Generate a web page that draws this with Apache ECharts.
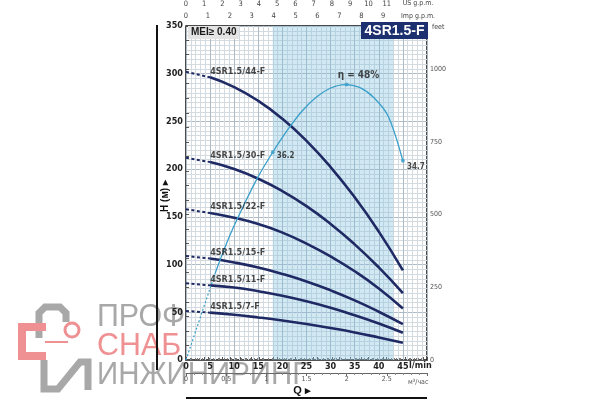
<!DOCTYPE html>
<html><head><meta charset="utf-8">
<script src="https://cdn.jsdelivr.net/npm/echarts@6/dist/echarts.min.js"></script>
<style>html,body{margin:0;padding:0;background:#fff}#c{width:600px;height:400px}</style>
</head><body><div id="c"></div>
<script>
// ---- data ----
const flowLmin = [0, 5, 10, 15, 20, 25, 30, 35, 40, 45];
const curveNames = ['4SR1.5/44-F', '4SR1.5/30-F', '4SR1.5/22-F', '4SR1.5/15-F', '4SR1.5/11-F', '4SR1.5/7-F'];
const head44 = [302, 296.2, 286, 271.5, 252.8, 229.6, 202.2, 170.5, 134.5, 94];
const head30 = [212, 207.4, 200.1, 189.9, 176.9, 161.2, 142.6, 121.2, 97, 70];
const head22 = [158, 154, 149, 142.5, 133.5, 122, 108.5, 93, 75, 54];
const head15 = [109, 106.3, 102.2, 96.9, 90.2, 82.3, 73, 62.5, 50.6, 37.5];
const head11 = [80.5, 78.2, 75.9, 72.1, 67.3, 61.5, 54.7, 46.9, 38.2, 28.5];
const head7 = [51.4, 49.6, 47.4, 44.6, 41.4, 37.7, 33.5, 28.9, 23.6, 18];
const effFlow = [0, 6, 9, 12, 15, 18, 21, 24, 27, 30, 33, 36, 39, 42, 45];
const effValue = [0, 15, 21.5, 27, 32, 36.2, 40, 43.3, 45.8, 47.4, 48, 47.5, 45.7, 42.4, 34.7];
const effMarkFlow = [18, 33.3, 45];
const effMarkValue = [36.2, 48, 34.7];
const effMarkText = ['36.2', 'η = 48%', '34.7'];
const bestRange = [18, 43];
const pumpDashedEnd = 5;  // pump curves dashed from Q=0 to Q=5
const effDashedEnd = 6;   // efficiency curve dashed from Q=0 to Q=6

// unit conversions
const L_PER_USGAL = 3.785, L_PER_IMPGAL = 4.546, LMIN_PER_M3H = 16.667, FT_PER_M = 3.28084;
const qMax = 50, hMax = 350, effMax = 58.2;

const heads = [head44, head30, head22, head15, head11, head7];
const NAVY = '#1f2a64', EFF = '#3a9fca';
const NARROW = '"Liberation Sans Narrow","DejaVu Sans Condensed",sans-serif';

const series = [];
series.push({
  type: 'line', data: [], xAxisIndex: 0, yAxisIndex: 0, z: 1, silent: true,
  markArea: { silent: true, itemStyle: { color: 'rgba(130,192,218,0.36)' },
    data: [[{ xAxis: bestRange[0] }, { xAxis: bestRange[1] }]] }
});
heads.forEach((h, i) => {
  const dashed = [], solid = [];
  flowLmin.forEach((q, k) => {
    if (q <= pumpDashedEnd) dashed.push([q, h[k]]);
    if (q >= pumpDashedEnd) solid.push([q, h[k]]);
  });
  series.push({ type: 'line', data: dashed, showSymbol: false, z: 4,
    lineStyle: { color: NAVY, width: 2, type: [3, 2.5] } });
  series.push({ type: 'line', data: solid, smooth: true, showSymbol: false, z: 4,
    lineStyle: { color: NAVY, width: 2.6 } });
  series.push({ type: 'scatter', data: [[flowLmin[1], h[1]]], symbolSize: 0.1, z: 6,
    label: { show: true, formatter: curveNames[i], position: 'right', distance: 0, offset: [0, -6],
      fontFamily: NARROW, fontWeight: 'bold', fontSize: 9, color: '#1a1a1a' } });
});
const effDashed = [], effSolid = [];
effFlow.forEach((q, k) => {
  if (q <= effDashedEnd) effDashed.push([q, effValue[k]]);
  if (q >= effDashedEnd) effSolid.push([q, effValue[k]]);
});
series.push({ type: 'line', yAxisIndex: 2, data: effDashed, showSymbol: false, z: 5,
  lineStyle: { color: EFF, width: 1.2, type: [2, 2] } });
series.push({ type: 'line', yAxisIndex: 2, data: effSolid, smooth: 0.3, showSymbol: false, z: 5,
  lineStyle: { color: EFF, width: 1.3 } });
const effLabelCfg = [
  { position: 'right', distance: 2, offset: [0, 4], fontSize: 8 },
  { position: 'top', distance: 2, offset: [12, 0], fontSize: 10 },
  { position: 'right', distance: 2, offset: [0, 6], fontSize: 8 }
];
series.push({ type: 'scatter', yAxisIndex: 2, symbolSize: 4, z: 6,
  itemStyle: { color: EFF },
  data: effMarkFlow.map((q, k) => ({ value: [q, effMarkValue[k]],
    label: Object.assign({ show: true, formatter: effMarkText[k], fontFamily: NARROW, fontWeight: 'bold', color: '#1a1a1a' }, effLabelCfg[k]) })) });

const chart = echarts.init(document.getElementById('c'), null, { renderer: 'canvas' });
chart.setOption({
  animation: false,
  backgroundColor: '#fff',
  grid: { left: 186, top: 24, width: 241, height: 336, show: true, borderColor: '#111', borderWidth: 1.5, backgroundColor: 'transparent' },
  xAxis: [
    { type: 'value', min: 0, max: qMax, interval: 5, position: 'bottom',
      axisLine: { show: false }, axisTick: { show: false },
      axisLabel: { margin: 2, fontFamily: NARROW, fontWeight: 'bold', fontSize: 9, color: '#222',
        formatter: v => (v >= 50 ? '' : v) },
      splitLine: { show: true, lineStyle: { color: '#aebbc5', width: 1 } },
      minorTick: { show: false, splitNumber: 5 },
      minorSplitLine: { show: true, lineStyle: { color: '#d3dbe1', width: 1 } } },
    { type: 'value', min: 0, max: qMax / L_PER_USGAL, interval: 1, position: 'top', offset: 16,
      axisLine: { show: true, lineStyle: { color: '#555', width: 1 } },
      axisTick: { show: true, length: 3, lineStyle: { color: '#555' } },
      minorTick: { show: true, splitNumber: 4, length: 2, lineStyle: { color: '#777' } },
      axisLabel: { margin: 2, fontSize: 7.5, color: '#444', fontFamily: NARROW, formatter: v => (v > 11.5 ? '' : v) },
      splitLine: { show: false } },
    { type: 'value', min: 0, max: qMax / L_PER_IMPGAL, interval: 1, position: 'top', offset: 4,
      axisLine: { show: true, lineStyle: { color: '#555', width: 1 } },
      axisTick: { show: true, length: 3, lineStyle: { color: '#555' } },
      minorTick: { show: true, splitNumber: 4, length: 2, lineStyle: { color: '#777' } },
      axisLabel: { margin: 2, fontSize: 7.5, color: '#444', fontFamily: NARROW, formatter: v => (v > 9.5 ? '' : v) },
      splitLine: { show: false } },
    { type: 'value', min: 0, max: qMax / LMIN_PER_M3H, interval: 0.5, position: 'bottom', offset: 13,
      axisLine: { show: true, lineStyle: { color: '#666', width: 1 } },
      axisTick: { show: true, length: 3, inside: false, lineStyle: { color: '#666' } },
      minorTick: { show: true, splitNumber: 5, length: 2, lineStyle: { color: '#888' } },
      axisLabel: { margin: 3, fontSize: 7, color: '#555', fontFamily: NARROW, formatter: v => (v >= 2.9 ? '' : v) },
      splitLine: { show: false } }
  ],
  yAxis: [
    { type: 'value', min: 0, max: hMax, interval: 50, position: 'left',
      axisLine: { show: false }, axisTick: { show: false },
      axisLabel: { margin: 3, fontFamily: NARROW, fontWeight: 'bold', fontSize: 9, color: '#222' },
      splitLine: { show: true, lineStyle: { color: '#aebbc5', width: 1 } },
      minorTick: { show: false, splitNumber: 10 },
      minorSplitLine: { show: true, lineStyle: { color: '#d3dbe1', width: 1 } } },
    { type: 'value', min: 0, max: hMax * FT_PER_M, interval: 250, position: 'right',
      axisLine: { show: false },
      axisTick: { show: true, length: 3, lineStyle: { color: '#555' } },
      minorTick: { show: true, splitNumber: 5, length: 3, lineStyle: { color: '#555' } },
      axisLabel: { margin: 3, fontSize: 7, color: '#555', fontFamily: NARROW, formatter: v => (v > 1100 ? '' : v) },
      splitLine: { show: false } },
    { type: 'value', min: 0, max: effMax, show: false }
  ],
  series: series,
  graphic: [
    { type: 'group', z: -10, silent: true, children: [
      { type: 'text', left: 97, top: 301, scaleX: 0.95, style: { text: 'ПРОФ', fontFamily: '"Liberation Sans",sans-serif', fontSize: 32, fill: '#a8a8a8' } },
      { type: 'text', left: 97, top: 330, scaleX: 0.95, style: { text: 'СНАБ', fontFamily: '"Liberation Sans",sans-serif', fontSize: 32, fill: '#ef9092' } },
      { type: 'text', left: 97, top: 359, scaleX: 0.92, style: { text: 'ИНЖИНИРИНГ', fontFamily: '"Liberation Sans",sans-serif', fontSize: 32, fill: '#a8a8a8' } },
      { type: 'polyline', shape: { points: [[39, 338], [39, 313], [45, 307], [60, 307], [66, 313], [66, 322]] }, style: { stroke: '#a8a8a8', lineWidth: 7, fill: null } },
      { type: 'polyline', shape: { points: [[46, 327], [22, 327], [22, 356], [46, 356]] }, style: { stroke: '#ef9092', lineWidth: 8, fill: null } },
      { type: 'line', shape: { x1: 45, y1: 342, x2: 68, y2: 342 }, style: { stroke: '#ef9092', lineWidth: 2 } },
      { type: 'circle', shape: { cx: 72, cy: 330, r: 7 }, style: { stroke: '#ef9092', lineWidth: 3, fill: null } },
      { type: 'polyline', shape: { points: [[44, 360], [44, 389], [58, 389], [80, 362], [88, 362], [88, 390]] }, style: { stroke: '#a8a8a8', lineWidth: 7, fill: null } }
    ] },
    { type: 'line', shape: { x1: 157, y1: 25, x2: 157, y2: 370 }, style: { stroke: '#111', lineWidth: 2 } },
    { type: 'line', shape: { x1: 186, y1: 398, x2: 427, y2: 398 }, style: { stroke: '#111', lineWidth: 2 } },
    { type: 'rect', shape: { x: 361, y: 22, width: 67, height: 17 }, style: { fill: '#1c2f6e' }, z: 10 },
    { type: 'text', x: 394.5, y: 31, z: 11, style: { text: '4SR1.5-F', fill: '#fff', fontFamily: '"Liberation Sans",sans-serif', fontWeight: 'bold', fontSize: 14, align: 'center', verticalAlign: 'middle' } },
    { type: 'rect', shape: { x: 188, y: 26, width: 51, height: 13 }, style: { fill: '#e4e4e4' }, z: 10 },
    { type: 'text', x: 191, y: 32.5, z: 11, style: { text: 'MEI≥ 0.40', fill: '#1a1a1a', fontFamily: '"Liberation Sans",sans-serif', fontWeight: 'bold', fontSize: 10, verticalAlign: 'middle' } },
    { type: 'text', x: 432, y: 27, style: { text: 'feet', fill: '#444', fontFamily: NARROW, fontSize: 7, verticalAlign: 'middle' } },
    { type: 'text', x: 418, y: 3.5, style: { text: 'US g.p.m.', fill: '#444', fontFamily: NARROW, fontSize: 7, align: 'center', verticalAlign: 'middle' } },
    { type: 'text', x: 418, y: 16, style: { text: 'Imp g.p.m.', fill: '#444', fontFamily: NARROW, fontSize: 7, align: 'center', verticalAlign: 'middle' } },
    { type: 'text', x: 409, y: 365.5, style: { text: 'l/min', fill: '#222', fontFamily: NARROW, fontWeight: 'bold', fontSize: 9, verticalAlign: 'middle' } },
    { type: 'text', x: 408, y: 382, style: { text: 'м³/час', fill: '#555', fontFamily: NARROW, fontSize: 7, verticalAlign: 'middle' } },
    { type: 'text', x: 302, y: 391, style: { text: 'Q ▸', fill: '#111', fontFamily: '"Liberation Sans",sans-serif', fontWeight: 'bold', fontSize: 11, align: 'center', verticalAlign: 'middle' } },
    { type: 'text', x: 165, y: 196, rotation: Math.PI / 2, style: { text: 'H (м) ▸', fill: '#111', fontFamily: '"Liberation Sans",sans-serif', fontWeight: 'bold', fontSize: 10, align: 'center', verticalAlign: 'middle' } }
  ]
});
</script></body></html>
